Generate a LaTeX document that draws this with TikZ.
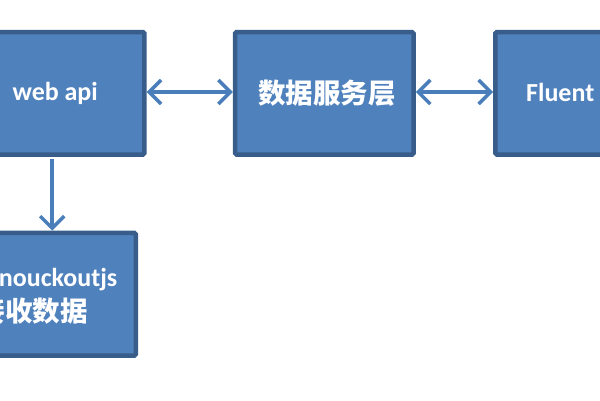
\documentclass[tikz,border=0pt]{standalone}
\usepackage{fontspec}
\setmainfont{Carlito}
\newfontfamily\cjk{Noto Sans CJK SC}
\usetikzlibrary{arrows.meta}
\definecolor{boxfill}{HTML}{4F81BD}
\definecolor{boxline}{HTML}{385D8A}
\definecolor{arrowc}{HTML}{4A7EBB}
\tikzset{
  bluebox/.style={draw=boxline, fill=boxfill, line width=4.5pt, rounded corners=1.5pt,
    minimum width=178.5pt, minimum height=122.5pt, text=white, font=\fontsize{26}{30}\selectfont\bfseries, inner sep=0pt},
  boxtext/.style={text=white, font=\fontsize{26}{30}\selectfont\bfseries, inner sep=0pt},
  cjktext/.style={text=white, font=\fontsize{27.5}{30}\selectfont\cjk\bfseries, inner sep=0pt},
  tip/.style={Straight Barb[length=12pt,width=24pt,line width=3.5pt]},
  link/.style={draw=arrowc, line width=4pt, {Straight Barb[length=12pt,width=24pt,line width=3.5pt]}-{Straight Barb[length=12pt,width=24pt,line width=3.5pt]}},
  onelink/.style={draw=arrowc, line width=4pt, -{Straight Barb[length=12pt,width=24pt,line width=3.5pt]}}
}
\begin{document}
\begin{tikzpicture}[x=1pt,y=-1pt]
\useasboundingbox (0,0) rectangle (600,400);
\node[bluebox] (api) at (55.2,93.3) {web api};
\node[bluebox] (data) at (324.3,93.3) {};
\node[cjktext] (datatext) at (327,93.3) {数据服务层};
\node[bluebox] (fluent) at (584.5,93.3) {};
\node[boxtext, anchor=west] (fluenttext) at (526,92) {Fluent};
\node[bluebox, minimum height=122.8pt] (ko) at (46.5,294.3) {};
\node[boxtext, anchor=base east] (kotext1) at (117.5,286.5) {knouckoutjs};
\node[cjktext, anchor=east] (kotext2) at (88,311) {接收数据};
\draw[link] (api.east) ++(0,-1.3) coordinate (a1) -- (a1 -| data.west);
\draw[link] (data.east) ++(0,-1.3) coordinate (b1) -- (b1 -| fluent.west);
\draw[onelink] (api.south) ++(-3,2.25) coordinate (c1) -- (c1 |- ko.north);
\end{tikzpicture}
\end{document}
